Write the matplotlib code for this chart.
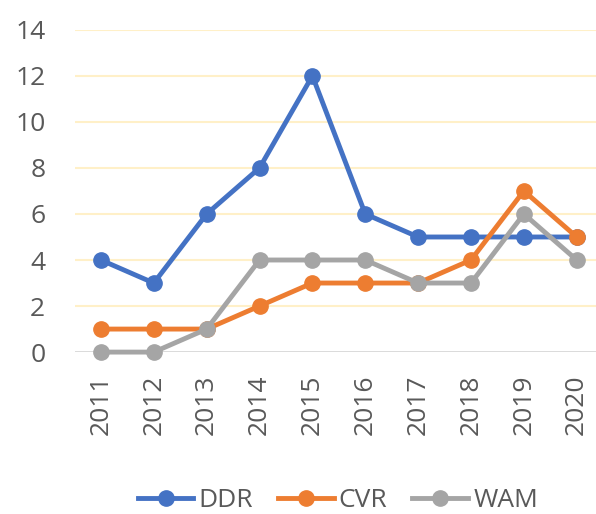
import matplotlib.pyplot as plt

years = ['2011', '2012', '2013', '2014', '2015', '2016', '2017', '2018', '2019', '2020']
ddr = [4, 3, 6, 8, 12, 6, 5, 5, 5, 5]
cvr = [1, 1, 1, 2, 3, 3, 3, 4, 7, 5]
wam = [0, 0, 1, 4, 4, 4, 3, 3, 6, 4]

plt.rcParams['font.family'] = ['Open Sans', 'DejaVu Sans']

fig = plt.figure(figsize=(5.96, 5.14), dpi=100)
ax = fig.add_axes([0.125, 0.315, 0.887, 0.627])

x = list(range(len(years)))
for vals, col, name in [(ddr, '#4472C4', 'DDR'), (cvr, '#ED7D31', 'CVR'), (wam, '#A5A5A5', 'WAM')]:
    ax.plot(x, vals, color=col, lw=3.5, marker='o', ms=11, label=name,
            zorder=3, clip_on=False)

ax.set_xlim(-0.5, len(years) - 0.5)
ax.set_ylim(0, 14)
ax.set_yticks(range(0, 15, 2))
ax.set_xticks(x)
ax.set_xticklabels(years, rotation=90)

# светло-жёлтая сетка, серая линия по нулю
ax.grid(axis='y', color='#FFF0C8', lw=1.5, zorder=0)
ax.get_ygridlines()[0].set_visible(False)
ax.axhline(0, color='#D0D0D0', lw=1.8, zorder=1)

for s in ax.spines.values():
    s.set_visible(False)
ax.tick_params(length=0, labelsize=19, colors='#595959')
ax.tick_params(axis='x', pad=16)
ax.tick_params(axis='y', pad=21)

fig.legend(loc='lower center', bbox_to_anchor=(0.567, -0.045), ncol=3, frameon=False,
           fontsize=19, labelcolor='#595959', handlelength=2.1, handletextpad=0.2,
           columnspacing=0.95)

plt.savefig('out.png')
